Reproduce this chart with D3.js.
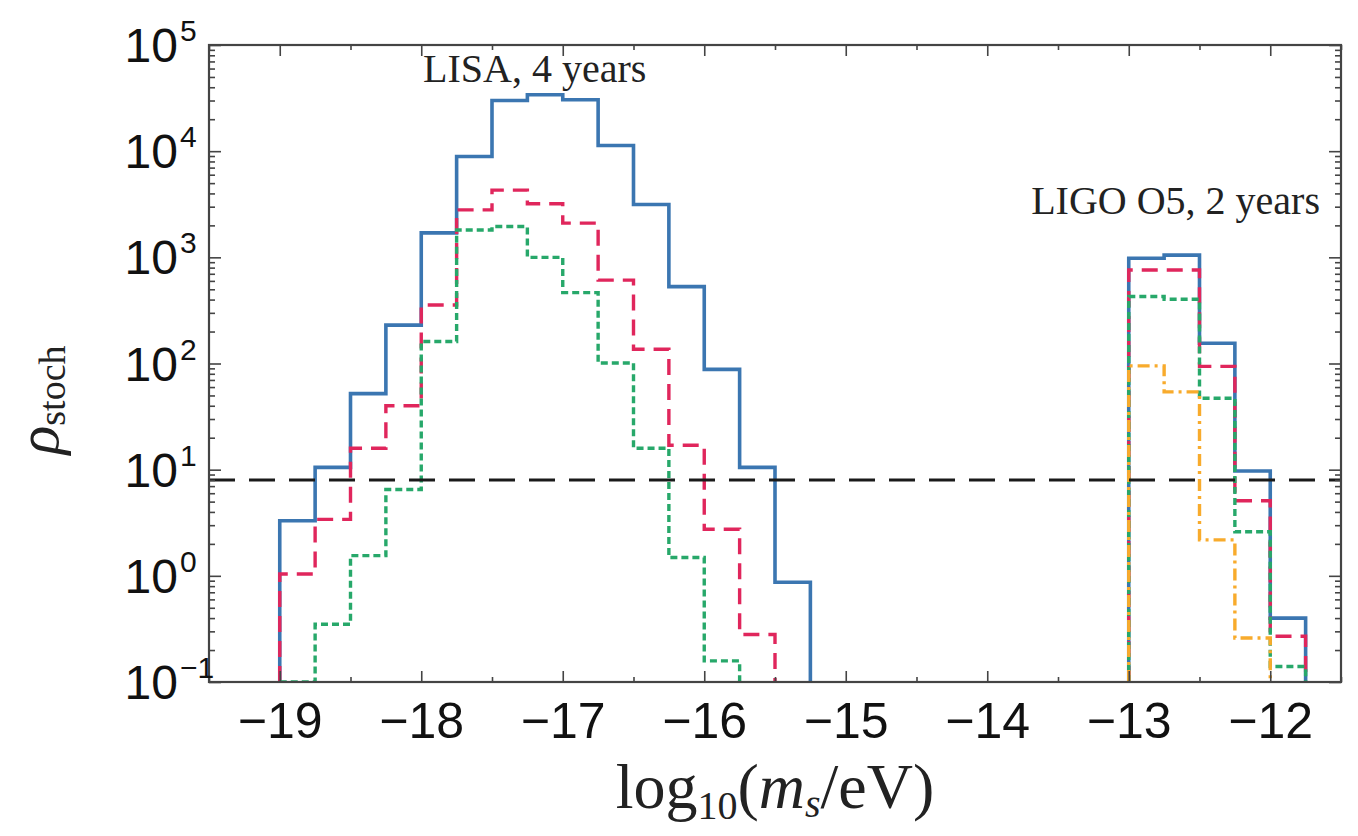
<!DOCTYPE html>
<html>
<head>
<meta charset="utf-8">
<script src="https://cdnjs.cloudflare.com/ajax/libs/d3/7.8.5/d3.min.js"></script>
<style>
  html, body { margin: 0; padding: 0; background: #fff; }
  svg { display: block; }
</style>
</head>
<body>
<svg id="chart" width="1358" height="836"></svg>
<script>
// bin width in log10(m_s/eV)
const binWidth = 0.25;

// LISA, 4 years  (bins start at -19)
const lisaStart = -19;
const lisaBlue  = [3.3, 10.5, 52, 230, 1700, 8900, 30000, 34000, 30500, 11300, 3150, 530, 88, 10.5, 0.87];
const lisaRed   = [1.04, 3.4, 15.9, 40, 356, 2800, 4300, 3200, 2100, 610, 136, 17, 2.75, 0.28];
const lisaGreen = [0.05, 0.35, 1.55, 6.5, 161, 1810, 1950, 1000, 465, 101, 15.9, 1.49, 0.158];

// LIGO O5, 2 years (bins start at -13)
const ligoStart  = -13;
const ligoBlue   = [980, 1050, 155, 9.7, 0.40];
const ligoRed    = [760, 760, 94, 5.1, 0.27];
const ligoGreen  = [427, 403, 47, 2.6, 0.14];
const ligoOrange = [95, 54, 2.18, 0.26];

const threshold = 8;

const xTicks = [-19, -18, -17, -16, -15, -14, -13, -12];
const xHalfTicks = [-19.5, -18.5, -17.5, -16.5, -15.5, -14.5, -13.5, -12.5, -11.5];
const yExponents = [-1, 0, 1, 2, 3, 4, 5];

const svg = d3.select("#chart");
const pL = 209, pR = 1341, pT = 45, pB = 682;

const x = d3.scaleLinear().domain([-19.5, -11.5]).range([pL, pR]);
const y = d3.scaleLog().domain([0.1, 1e5]).range([pB, pT]);
const yMin = 0.1;

svg.append("clipPath").attr("id", "plotClip")
  .append("rect").attr("x", pL).attr("y", pT - 2)
  .attr("width", pR - pL).attr("height", pB - pT + 2);

// step outline for one histogram
function stepPoints(start, vals) {
  const pts = [[start, yMin]];
  vals.forEach((v, i) => pts.push([start + i * binWidth, v]));
  pts.push([start + vals.length * binWidth, yMin]);
  return pts;
}

const line = d3.line()
  .x(d => x(d[0]))
  .y(d => y(Math.max(d[1], yMin)))
  .curve(d3.curveStepAfter);

const series = [
  { start: lisaStart, vals: lisaBlue,  color: "#3b76b1", dash: null,         width: 3.6 },
  { start: ligoStart, vals: ligoBlue,  color: "#3b76b1", dash: null,         width: 3.6 },
  { start: lisaStart, vals: lisaRed,   color: "#e0265c", dash: "16,9",       width: 3.4 },
  { start: ligoStart, vals: ligoRed,   color: "#e0265c", dash: "16,9",       width: 3.4 },
  { start: lisaStart, vals: lisaGreen, color: "#27a86a", dash: "7,4",        width: 3.4 },
  { start: ligoStart, vals: ligoGreen, color: "#27a86a", dash: "7,4",        width: 3.4 },
  { start: ligoStart, vals: ligoOrange, color: "#f8ab2c", dash: "12,5,3,5",  width: 3.4 }
];

const plot = svg.append("g").attr("clip-path", "url(#plotClip)");

plot.selectAll("path.hist")
  .data(series)
  .join("path")
  .attr("class", "hist")
  .attr("d", d => line(stepPoints(d.start, d.vals)))
  .attr("fill", "none")
  .attr("stroke", d => d.color)
  .attr("stroke-width", d => d.width)
  .attr("stroke-dasharray", d => d.dash)
  .attr("stroke-linejoin", "miter");

// detection threshold
plot.append("line")
  .attr("x1", pL).attr("x2", pR)
  .attr("y1", y(threshold)).attr("y2", y(threshold))
  .attr("stroke", "#1a1a1a")
  .attr("stroke-width", 3)
  .attr("stroke-dasharray", "26,14");

// ticks (all pointing inward)
const majorY = yExponents.map(e => Math.pow(10, e));
const minorY = y.ticks().filter(v => Math.abs(Math.log10(v) - Math.round(Math.log10(v))) > 1e-6);

function styleTicks(g) {
  g.select(".domain").remove();
  g.selectAll("line").attr("stroke", "#444").attr("stroke-width", 1.6);
}

svg.append("g").attr("transform", `translate(${pL},0)`)
  .call(d3.axisRight(y).tickValues(majorY).tickSize(12).tickFormat("")).call(styleTicks);
svg.append("g").attr("transform", `translate(${pL},0)`)
  .call(d3.axisRight(y).tickValues(minorY).tickSize(6).tickFormat("")).call(styleTicks);
svg.append("g").attr("transform", `translate(${pR},0)`)
  .call(d3.axisLeft(y).tickValues(majorY).tickSize(12).tickFormat("")).call(styleTicks);
svg.append("g").attr("transform", `translate(${pR},0)`)
  .call(d3.axisLeft(y).tickValues(minorY).tickSize(6).tickFormat("")).call(styleTicks);

svg.append("g").attr("transform", `translate(0,${pB})`)
  .call(d3.axisTop(x).tickValues(xTicks).tickSize(11).tickFormat("")).call(styleTicks);
svg.append("g").attr("transform", `translate(0,${pB})`)
  .call(d3.axisTop(x).tickValues(xHalfTicks).tickSize(5).tickFormat("")).call(styleTicks);
svg.append("g").attr("transform", `translate(0,${pT})`)
  .call(d3.axisBottom(x).tickValues(xTicks).tickSize(11).tickFormat("")).call(styleTicks);
svg.append("g").attr("transform", `translate(0,${pT})`)
  .call(d3.axisBottom(x).tickValues(xHalfTicks).tickSize(5).tickFormat("")).call(styleTicks);

// frame
svg.append("rect")
  .attr("x", pL).attr("y", pT)
  .attr("width", pR - pL).attr("height", pB - pT)
  .attr("fill", "none").attr("stroke", "#444").attr("stroke-width", 2.2);

// x tick labels
const gxLab = svg.append("g").attr("transform", `translate(0,${pB})`)
  .call(d3.axisBottom(x).tickValues(xTicks).tickSize(0).tickPadding(20)
    .tickFormat(d => "\u2212" + Math.abs(d)));
gxLab.select(".domain").remove();
gxLab.selectAll("text")
  .attr("font-family", "'Liberation Sans', Arial, sans-serif")
  .attr("font-size", 50)
  .attr("fill", "#111");

// y tick labels 10^n
const sans = "'Liberation Sans', Arial, sans-serif";
const yLab = svg.append("g");
yExponents.forEach(e => {
  const yy = y(Math.pow(10, e));
  yLab.append("text")
    .attr("x", 178).attr("y", yy + 17)
    .attr("text-anchor", "end")
    .attr("font-family", sans).attr("font-size", 48).attr("fill", "#111")
    .text("10");
  yLab.append("text")
    .attr("x", 180).attr("y", yy - 4)
    .attr("font-family", sans).attr("font-size", 30).attr("fill", "#111")
    .text(e < 0 ? "\u2212" + Math.abs(e) : String(e));
});

const serif = "'Liberation Serif', 'Times New Roman', serif";

// annotations
svg.append("text")
  .attr("x", 423).attr("y", 82)
  .attr("font-family", serif).attr("font-size", 40).attr("fill", "#222")
  .text("LISA, 4 years");
svg.append("text")
  .attr("x", 1320).attr("y", 214)
  .attr("text-anchor", "end")
  .attr("font-family", serif).attr("font-size", 40).attr("fill", "#222")
  .text("LIGO O5, 2 years");

// axis titles
const xTitle = svg.append("text")
  .attr("x", 775).attr("y", 808)
  .attr("text-anchor", "middle")
  .attr("font-family", serif).attr("font-size", 64).attr("fill", "#222");
xTitle.append("tspan").text("log");
xTitle.append("tspan").attr("font-size", 40).attr("dy", 11).text("10");
xTitle.append("tspan").attr("dy", -11).text("(");
xTitle.append("tspan").attr("font-style", "italic").text("m");
xTitle.append("tspan").attr("font-style", "italic").attr("font-size", 40).attr("dy", 9).text("s");
xTitle.append("tspan").attr("dy", -9).text("/eV)");

const yTitle = svg.append("text")
  .attr("transform", "translate(58,400) rotate(-90)")
  .attr("text-anchor", "middle")
  .attr("font-family", serif).attr("fill", "#222");
yTitle.append("tspan").attr("font-style", "italic").attr("font-size", 60).text("\u03c1");
yTitle.append("tspan").attr("font-size", 38).attr("dy", 7).text("stoch");
</script>
</body>
</html>
